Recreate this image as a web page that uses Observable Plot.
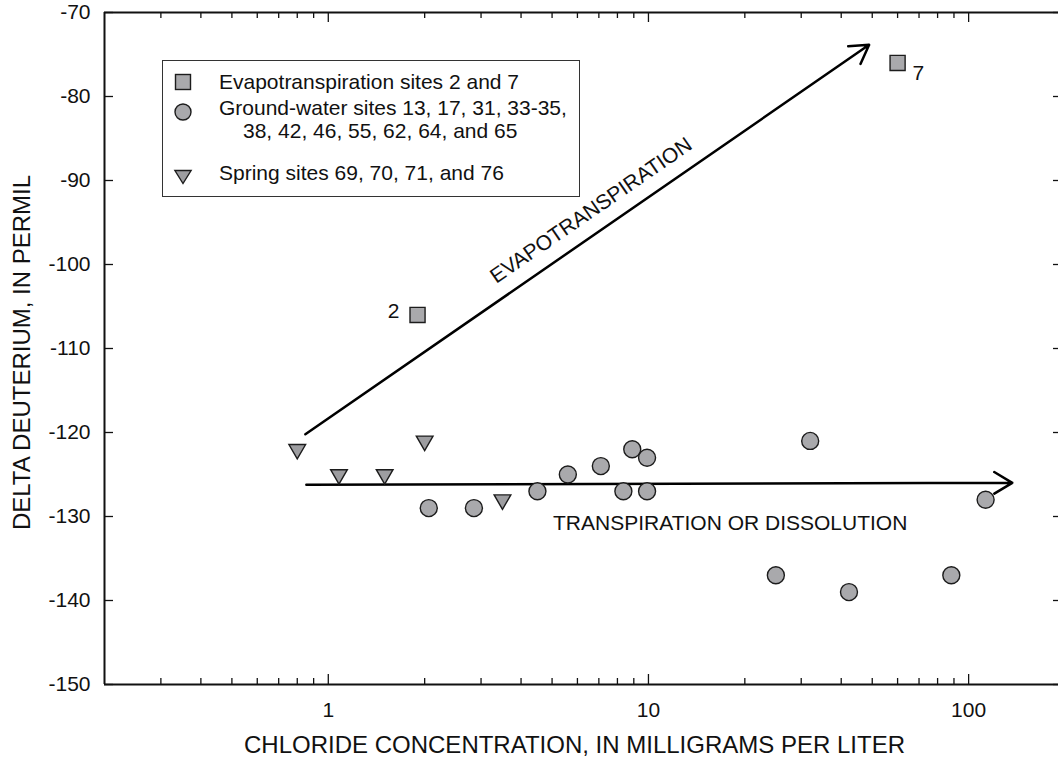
<!DOCTYPE html>
<html>
<head>
<meta charset="utf-8">
<script src="https://cdn.jsdelivr.net/npm/d3@7"></script>
<script src="https://cdn.jsdelivr.net/npm/@observablehq/plot@0.6"></script>
<style>
html, body { margin: 0; padding: 0; background: #fff; overflow: hidden; }
#wrap { position: relative; width: 1058px; height: 761px; font-family: "Liberation Sans", Arial, sans-serif; color: #111; }
#legendBox { position: absolute; box-sizing: border-box; border: 1.5px solid #333; background: #fff; }
.lg { position: absolute; font-size: 21px; line-height: 21px; white-space: nowrap; }
.sym { position: absolute; }
</style>
</head>
<body>
<div id="wrap"><div id="chart"></div></div>
<script>
// ---- Data ----
const evapSites = ["2", "7"];
const evapChloride = [1.9, 60];
const evapDeuterium = [-106, -76];

const gwChloride  = [2.06, 2.85, 4.5, 5.6, 7.1, 8.9, 9.9, 8.35, 9.9, 32, 25, 42.3, 88.3, 113];
const gwDeuterium = [-129, -129, -127, -125, -124, -122, -123, -127, -127, -121, -137, -139, -137, -128];

const springChloride  = [0.8, 1.08, 1.5, 2.0, 3.5];
const springDeuterium = [-122, -125, -125, -121, -128];

// axes
const yTicks = [-150, -140, -130, -120, -110, -100, -90, -80, -70];
const xMajor = [1, 10, 100];
const xMinor = [0.3, 0.4, 0.5, 0.6, 0.7, 0.8, 0.9, 2, 3, 4, 5, 6, 7, 8, 9, 20, 30, 40, 50, 60, 70, 80, 90];
const xDomain = [0.2, 200];
const yDomain = [-150, -70];

// annotations
const evapArrowX = [0.848, 48.9];
const evapArrowY = [-120.2, -73.85];
const transArrowX = [0.854, 136.9];
const transArrowY = [-126.23, -125.99];
const evapLabel = "EVAPOTRANSPIRATION";
const evapLabelX = 6.62, evapLabelY = -93.57;
const transLabel = "TRANSPIRATION OR DISSOLUTION";
const transLabelX = 18, transLabelY = -130.8;

const xTitle = "CHLORIDE CONCENTRATION, IN MILLIGRAMS PER LITER";
const yTitle = "DELTA DEUTERIUM, IN PERMIL";

const legendLabels = [
  "Evapotranspiration sites 2 and 7",
  "Ground-water sites 13, 17, 31, 33-35,",
  "38, 42, 46, 55, 62, 64, and 65",
  "Spring sites 69, 70, 71, and 76"
];

// ---- tables ----
const evap = evapSites.map((s, i) => ({site: s, x: evapChloride[i], y: evapDeuterium[i]}));
const gw = gwChloride.map((x, i) => ({x, y: gwDeuterium[i]}));
const spring = springChloride.map((x, i) => ({x, y: springDeuterium[i]}));
const arrows = [
  {x1: evapArrowX[0], y1: evapArrowY[0], x2: evapArrowX[1], y2: evapArrowY[1]},
  {x1: transArrowX[0], y1: transArrowY[0], x2: transArrowX[1], y2: transArrowY[1]}
];

const W = 1058, H = 761, mL = 104, mR = 0, mT = 12, mB = 77;
const frameW = W - mL - mR, frameH = H - mT - mB;
const FILL = "#a9a9ac", TRI_FILL = "#9d9da0", STROKE = "#1c1c1c";

const chart = Plot.plot({
  width: W, height: H,
  marginLeft: mL, marginRight: mR, marginTop: mT, marginBottom: mB,
  style: {fontFamily: "'Liberation Sans', Arial, sans-serif", fontSize: "21px", color: "#111", background: "#fff"},
  x: {type: "log", domain: xDomain, range: [mL, 1064.5]},
  y: {domain: yDomain},
  marks: [
    // frame
    Plot.ruleX([xDomain[0]], {stroke: "#111", strokeWidth: 2}),
    Plot.ruleY(yDomain, {stroke: "#111", strokeWidth: 2}),
    // inward ticks
    Plot.tickY(yTicks, {y: d => d, insetRight: frameW - 9, stroke: "#111", strokeWidth: 1.3}),
    Plot.tickY(yTicks, {y: d => d, insetLeft: frameW - 5, stroke: "#111", strokeWidth: 1.3}),
    Plot.tickX(xMajor, {x: d => d, insetTop: frameH - 10, stroke: "#111", strokeWidth: 1.3}),
    Plot.tickX(xMinor, {x: d => d, insetTop: frameH - 6, stroke: "#111", strokeWidth: 1.3}),
    Plot.tickX(xMajor, {x: d => d, insetBottom: frameH - 10, stroke: "#111", strokeWidth: 1.3}),
    Plot.tickX(xMinor, {x: d => d, insetBottom: frameH - 6, stroke: "#111", strokeWidth: 1.3}),
    // tick labels
    Plot.axisY({ticks: yTicks, tickSize: 0, tickPadding: 14, tickFormat: d => `${d}`, label: null, fontSize: 21}),
    Plot.axisX({ticks: xMajor, tickSize: 0, tickPadding: 18, tickFormat: d => `${d}`, label: null, fontSize: 21}),
    // axis titles
    Plot.text([xTitle], {frameAnchor: "bottom", textAnchor: "middle", lineAnchor: "middle", dx: -7, dy: 61, fontSize: 24, fill: "#111"}),
    Plot.text([yTitle], {frameAnchor: "left", textAnchor: "middle", lineAnchor: "middle", rotate: -90, dx: -82, dy: 4, fontSize: 24, fill: "#111"}),
    // arrows
    Plot.arrow(arrows, {x1: "x1", y1: "y1", x2: "x2", y2: "y2", stroke: "#000", strokeWidth: 2.5, headLength: 12.6, headAngle: 62}),
    Plot.text([evapLabel], {x: () => evapLabelX, y: () => evapLabelY, rotate: -34.6, fontSize: 21, fill: "#111"}),
    Plot.text([transLabel], {x: () => transLabelX, y: () => transLabelY, fontSize: 21, fill: "#111"}),
    // data
    Plot.dot(gw, {x: "x", y: "y", symbol: "circle", r: 8.5, fill: FILL, stroke: STROKE, strokeWidth: 1.4}),
    Plot.dot(spring, {x: "x", y: "y", symbol: "triangle", r: 6.2, rotate: 180, fill: TRI_FILL, stroke: STROKE, strokeWidth: 1.4}),
    Plot.dot(evap, {x: "x", y: "y", symbol: "square", r: 8.5, fill: FILL, stroke: STROKE, strokeWidth: 1.4}),
    Plot.text(evap.filter(d => d.site === "2"), {x: "x", y: "y", text: "site", textAnchor: "end", dx: -18, dy: -4, fontSize: 21, fill: "#111"}),
    Plot.text(evap.filter(d => d.site === "7"), {x: "x", y: "y", text: "site", textAnchor: "start", dx: 15, dy: 10, fontSize: 21, fill: "#111"})
  ]
});
document.getElementById("chart").appendChild(chart);

// ---- legend (HTML overlay inside the plot frame) ----
const wrap = document.getElementById("wrap");
const box = document.createElement("div");
box.id = "legendBox";
Object.assign(box.style, {left: "162px", top: "60px", width: "418px", height: "137px"});
wrap.appendChild(box);

function addText(txt, left, capCenter) {
  const d = document.createElement("div");
  d.className = "lg";
  d.textContent = txt;
  d.style.left = left + "px";
  d.style.top = (capCenter - 10.25) + "px";
  wrap.appendChild(d);
}
function addSym(kind, cx, cy, fill) {
  const ns = "http://www.w3.org/2000/svg";
  const s = document.createElementNS(ns, "svg");
  s.setAttribute("class", "sym");
  s.setAttribute("width", 22); s.setAttribute("height", 22);
  s.style.left = (cx - 11) + "px"; s.style.top = (cy - 11) + "px";
  let el;
  if (kind === "square") {
    el = document.createElementNS(ns, "rect");
    el.setAttribute("x", 3.5); el.setAttribute("y", 3.5); el.setAttribute("width", 15); el.setAttribute("height", 15);
  } else if (kind === "circle") {
    el = document.createElementNS(ns, "circle");
    el.setAttribute("cx", 11); el.setAttribute("cy", 11); el.setAttribute("r", 8);
  } else {
    el = document.createElementNS(ns, "path");
    el.setAttribute("d", "M2.9,5.5 L19.1,5.5 L11,18.5 Z");
  }
  el.setAttribute("fill", fill); el.setAttribute("stroke", STROKE); el.setAttribute("stroke-width", 1.4);
  s.appendChild(el);
  wrap.appendChild(s);
}
addSym("square", 183, 81.5, FILL);
addSym("circle", 183, 112, FILL);
addSym("triangle", 183, 176, TRI_FILL);
addText(legendLabels[0], 219, 81);
addText(legendLabels[1], 219, 107);
addText(legendLabels[2], 243, 130);
addText(legendLabels[3], 219, 172);
</script>
</body>
</html>
